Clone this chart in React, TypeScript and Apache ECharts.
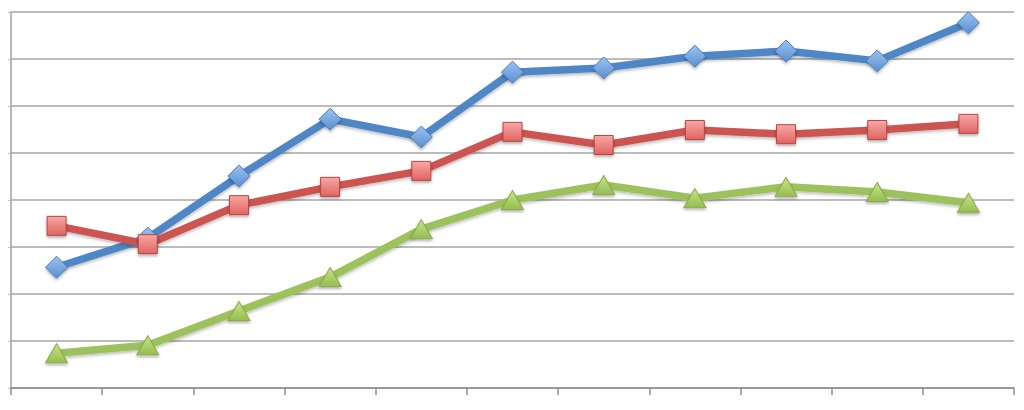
import React, { useEffect, useRef } from "react";
import * as echarts from "echarts";

const categories = ["1", "2", "3", "4", "5", "6", "7", "8", "9", "10", "11"];
const seriesBlue = [25.7, 31.9, 45.1, 57.2, 53.4, 67.2, 68.1, 70.6, 71.7, 69.6, 77.7];
const seriesRed = [34.5, 30.6, 38.9, 42.8, 46.2, 54.5, 51.7, 54.9, 54.0, 54.9, 56.2];
const seriesGreen = [7.4, 9.1, 16.4, 23.6, 33.8, 40.0, 43.2, 40.4, 42.8, 41.7, 39.4];

const grad = (top: string, bottom: string) =>
  new echarts.graphic.LinearGradient(0, 0, 0, 1, [
    { offset: 0, color: top },
    { offset: 1, color: bottom },
  ]);

export default function App() {
  const ref = useRef<HTMLDivElement>(null);
  useEffect(() => {
    if (!ref.current) return;
    const chart = echarts.init(ref.current, undefined, { renderer: "svg" });
    const mk = (
      name: string,
      data: number[],
      line: string,
      symbol: string,
      size: number | number[],
      top: string,
      bottom: string,
      border: string
    ) => ({
      name,
      type: "line",
      data,
      symbol,
      symbolSize: size,
      lineStyle: { color: line, width: 7.5, shadowColor: "rgba(0,0,0,0.25)", shadowBlur: 3, shadowOffsetY: 2 },
      itemStyle: {
        color: grad(top, bottom),
        borderColor: border,
        borderWidth: 1,
        shadowColor: "rgba(0,0,0,0.3)",
        shadowBlur: 3,
        shadowOffsetY: 2,
      },
    });
    chart.setOption({
      animation: false,
      grid: { left: 3, right: 2, top: 4, bottom: 14, containLabel: false },
      xAxis: {
        type: "category",
        data: categories,
        boundaryGap: true,
        axisLine: { lineStyle: { color: "#8c8c8c", width: 1.5 } },
        axisTick: { show: true, length: 7, inside: false, lineStyle: { color: "#8c8c8c", width: 1.5 } },
        axisLabel: { show: false },
      },
      yAxis: {
        type: "value",
        min: 0,
        max: 80,
        interval: 10,
        axisLine: { show: true, lineStyle: { color: "#a0a0a0", width: 1.5 } },
        axisTick: { show: true, length: 3, lineStyle: { color: "#c0c0c0" } },
        axisLabel: { show: false },
        splitLine: { lineStyle: { color: "#a6a6a6", width: 1.5 } },
      },
      series: [
        mk("Blue", seriesBlue, "#4F86C6", "diamond", [22, 22], "#9cc2f0", "#5a8fd2", "#4a7ebb"),
        mk("Red", seriesRed, "#CC5451", "rect", 19, "#f7a8a6", "#e06461", "#b94441"),
        mk("Green", seriesGreen, "#9DC15B", "triangle", [22, 19], "#c8e58a", "#96bd4f", "#8aad4b"),
      ],
    });
    return () => chart.dispose();
  }, []);
  return <div ref={ref} style={{ width: 1008, height: 394 }} />;
}
